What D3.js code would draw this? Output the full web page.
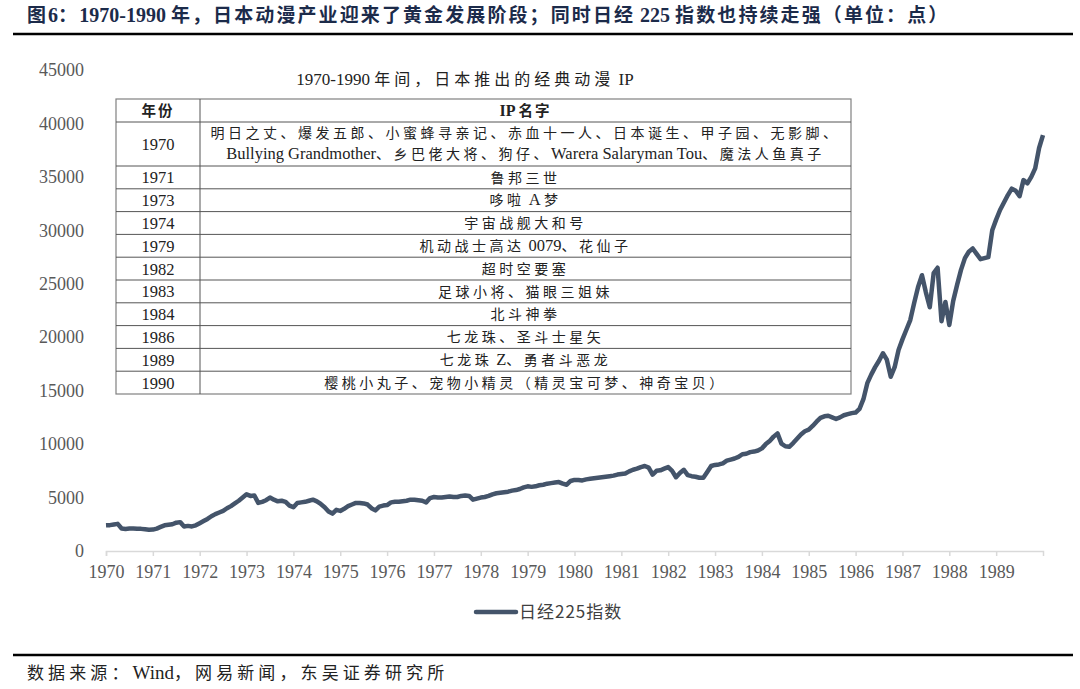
<html>
<head>
<meta charset="utf-8">
<title>日经225指数 1970-1990</title>
<style>
  body { margin: 0; background: #fff; }
  .serif { font-family: "Liberation Serif", "Noto Sans CJK SC", serif; }
  .axis text { font-family: "Liberation Serif", serif; font-size: 18px; fill: #595959; }
</style>
</head>
<body>
<script src="https://cdn.jsdelivr.net/npm/d3@7/dist/d3.min.js"></script>
<script>
// 月度数据，1970年1月起，最后一个点为1990年初
var startYear = 1970;
var nikkei = [
  2400, 2420, 2480, 2540, 2100, 2060, 2100, 2110, 2080, 2070, 2030, 1990,   // 1970
  2000, 2100, 2250, 2400, 2450, 2500, 2650, 2700, 2300, 2350, 2300, 2400,   // 1971
  2600, 2800, 3000, 3250, 3450, 3600, 3750, 4000, 4200, 4450, 4700, 5000,   // 1972
  5300, 5150, 5200, 4500, 4600, 4750, 5000, 4800, 4650, 4700, 4600, 4250,   // 1973
  4100, 4500, 4550, 4600, 4700, 4800, 4650, 4400, 4100, 3700, 3500, 3850,   // 1974
  3750, 3950, 4200, 4350, 4500, 4500, 4450, 4350, 4000, 3800, 4150, 4250,   // 1975
  4300, 4550, 4600, 4600, 4650, 4700, 4800, 4800, 4750, 4700, 4550, 4950,   // 1976
  5050, 5000, 5000, 5050, 5100, 5050, 5050, 5150, 5200, 5150, 4800, 4900,   // 1977
  5000, 5050, 5150, 5300, 5400, 5450, 5500, 5550, 5650, 5700, 5800, 5950,   // 1978
  6050, 6000, 6050, 6150, 6200, 6300, 6350, 6400, 6450, 6300, 6200, 6550,   // 1979
  6650, 6650, 6600, 6700, 6750, 6800, 6850, 6900, 6950, 7000, 7050, 7150,   // 1980
  7200, 7250, 7450, 7600, 7700, 7850, 7950, 7800, 7150, 7500, 7550, 7700,   // 1981
  7850, 7500, 6900, 7300, 7600, 7100, 7000, 6950, 6850, 6850, 7400, 7950,   // 1982
  8050, 8100, 8200, 8450, 8550, 8650, 8800, 9050, 9100, 9250, 9300, 9400,   // 1983
  9600, 10000, 10300, 10700, 11000, 10050, 9800, 9750, 10100, 10500, 10900, 11200, // 1984
  11350, 11700, 12100, 12450, 12600, 12650, 12500, 12350, 12500, 12700, 12800, 12900, // 1985
  12950, 13300, 14200, 15700, 16500, 17200, 17800, 18500, 17900, 16300, 17200, 18800, // 1986
  19800, 20700, 21600, 23200, 24700, 25800, 24200, 22800, 26000, 26500, 21500, 23300, // 1987
  21150, 23400, 24900, 26300, 27400, 28000, 28300, 27800, 27300, 27400, 27500, 30000, // 1988
  31000, 31900, 32600, 33300, 33900, 33700, 33200, 34700, 34400, 35000, 35800, 37700, // 1989
  38900
];
var yearTicks = d3.range(1970, 1990);
var yTicks = [0, 5000, 10000, 15000, 20000, 25000, 30000, 35000, 40000, 45000];

var ipYears = ["1970", "1971", "1973", "1974", "1979", "1982", "1983", "1984", "1986", "1989", "1990"];
var ipNames = [
  ["明日之丈、爆发五郎、小蜜蜂寻亲记、赤血十一人、日本诞生、甲子园、无影脚、",
   "Bullying Grandmother、乡巴佬大将、狗仔、Warera Salaryman Tou、魔法人鱼真子"],
  ["鲁邦三世"],
  ["哆啦 A 梦"],
  ["宇宙战舰大和号"],
  ["机动战士高达 0079、花仙子"],
  ["超时空要塞"],
  ["足球小将、猫眼三姐妹"],
  ["北斗神拳"],
  ["七龙珠、圣斗士星矢"],
  ["七龙珠 Z、勇者斗恶龙"],
  ["樱桃小丸子、宠物小精灵（精灵宝可梦、神奇宝贝）"]
];

var width = 1080, height = 689;
var svg = d3.select("body").append("svg")
  .attr("width", width).attr("height", height);

// 中文字符单独加字距，西文可单独设字号
var cjkRe = /[\u3000-\u9fff\uff00-\uffef]/;
function richText(sel, str, spacing, latinSize) {
  var runs = str.match(/[\u3000-\u9fff\uff00-\uffef]+|[^\u3000-\u9fff\uff00-\uffef]+/g);
  runs.forEach(function(r) {
    var cjk = cjkRe.test(r);
    var t = sel.append("tspan")
      .attr("letter-spacing", cjk ? spacing : 0)
      .text(r);
    if (!cjk && latinSize) t.style("font-size", latinSize + "px");
  });
  return sel;
}

// 标题
richText(svg.append("text")
  .attr("class", "serif")
  .attr("x", 27).attr("y", 22)
  .style("font-size", "19px").style("font-weight", "bold")
  .style("fill", "#1c2b4a"),
  "图6：1970-1990 年，日本动漫产业迎来了黄金发展阶段；同时日经 225 指数也持续走强（单位：点）", 2.1, 20);

svg.append("line").attr("x1", 13).attr("x2", 1073).attr("y1", 34).attr("y2", 34)
  .attr("stroke", "#000").attr("stroke-width", 2.5);
svg.append("line").attr("x1", 13).attr("x2", 1073).attr("y1", 655).attr("y2", 655)
  .attr("stroke", "#000").attr("stroke-width", 2.5);

richText(svg.append("text")
  .attr("class", "serif")
  .attr("x", 27).attr("y", 679)
  .style("font-size", "17px").style("fill", "#222"),
  "数据来源：Wind，网易新闻，东吴证券研究所", 4.1, 19);

// 比例尺
var x = d3.scaleLinear().domain([1970, 1990]).range([106, 1043]);
var y = d3.scaleLinear().domain([0, 45000]).range([551, 70]);

var yAxis = svg.append("g")
  .attr("class", "axis")
  .attr("transform", "translate(86,0)")
  .call(d3.axisLeft(y).tickValues(yTicks).tickSize(0).tickPadding(2).tickFormat(d3.format("d")));
yAxis.select(".domain").remove();

var xAxis = svg.append("g")
  .attr("class", "axis")
  .attr("transform", "translate(0,551)")
  .call(d3.axisBottom(x).tickValues(yearTicks).tickSize(5).tickPadding(9).tickFormat(d3.format("d")));
xAxis.select(".domain").attr("stroke", "#d9d9d9").attr("stroke-width", 1.5);
xAxis.selectAll(".tick line").attr("stroke", "#d9d9d9").attr("stroke-width", 1.5);

// 折线
var line = d3.line()
  .x(function(d, i) { return x(startYear + i / 12); })
  .y(function(d) { return y(d); })
  .curve(d3.curveLinear);

svg.append("path")
  .datum(nikkei)
  .attr("d", line)
  .attr("fill", "none")
  .attr("stroke", "#44546a")
  .attr("stroke-width", 4.5)
  .attr("stroke-linejoin", "round");

// 图例
svg.append("line").attr("x1", 476).attr("x2", 516).attr("y1", 612).attr("y2", 612)
  .attr("stroke", "#44546a").attr("stroke-width", 4.5).attr("stroke-linecap", "round");
svg.append("text")
  .attr("x", 519).attr("y", 618)
  .style("font-family", "'Noto Sans CJK SC', sans-serif")
  .style("font-size", "17px").style("fill", "#404040")
  .attr("letter-spacing", 1)
  .text("日经225指数");

// 表格
var tLeft = 116, tRight = 851, tDiv = 200;
var tTop = 99, headH = 23, rowH = 22.8;
var rowTops = [];
var cur = tTop + headH;
ipNames.forEach(function(n) { rowTops.push(cur); cur += n.length === 2 ? 44 : rowH; });
var tBottom = cur;

var gTable = svg.append("g").attr("class", "serif");

richText(gTable.append("text")
  .attr("x", 465).attr("y", 85)
  .attr("text-anchor", "middle")
  .style("font-size", "16px").style("fill", "#222"),
  "1970-1990 年间，日本推出的经典动漫 IP", 4, 17);

gTable.append("rect")
  .attr("x", tLeft).attr("y", tTop)
  .attr("width", tRight - tLeft).attr("height", tBottom - tTop)
  .attr("fill", "#fff").attr("stroke", "#808080").attr("stroke-width", 1.2);

gTable.selectAll(".hline")
  .data([tTop + headH].concat(rowTops.slice(1)))
  .enter().append("line")
  .attr("x1", tLeft).attr("x2", tRight)
  .attr("y1", function(d) { return d; }).attr("y2", function(d) { return d; })
  .attr("stroke", "#555").attr("stroke-width", 1);

gTable.append("line")
  .attr("x1", tDiv).attr("x2", tDiv).attr("y1", tTop).attr("y2", tBottom)
  .attr("stroke", "#555").attr("stroke-width", 1);

var colMid = (tDiv + tRight) / 2;
richText(gTable.append("text")
  .attr("x", (tLeft + tDiv) / 2).attr("y", tTop + 17)
  .attr("text-anchor", "middle")
  .style("font-size", "14.5px").style("font-weight", "bold").style("fill", "#222"),
  "年份", 2);
richText(gTable.append("text")
  .attr("x", colMid).attr("y", tTop + 17)
  .attr("text-anchor", "middle")
  .style("font-size", "14.5px").style("font-weight", "bold").style("fill", "#222"),
  "IP 名字", 2, 16);

ipYears.forEach(function(yr, i) {
  var top = rowTops[i];
  var lines = ipNames[i];
  var h = lines.length === 2 ? 44 : rowH;
  gTable.append("text")
    .attr("x", (tLeft + tDiv) / 2).attr("y", top + h / 2 + 6)
    .attr("text-anchor", "middle")
    .style("font-size", "16.5px").style("fill", "#222")
    .text(yr);
  lines.forEach(function(s, j) {
    var yy = lines.length === 2 ? top + 16 + j * 21 : top + 16.5;
    richText(gTable.append("text")
      .attr("x", colMid).attr("y", yy)
      .attr("text-anchor", "middle")
      .style("font-size", "14px").style("fill", "#222"),
      s, 3.5, 16.5);
  });
});
</script>
</body>
</html>
